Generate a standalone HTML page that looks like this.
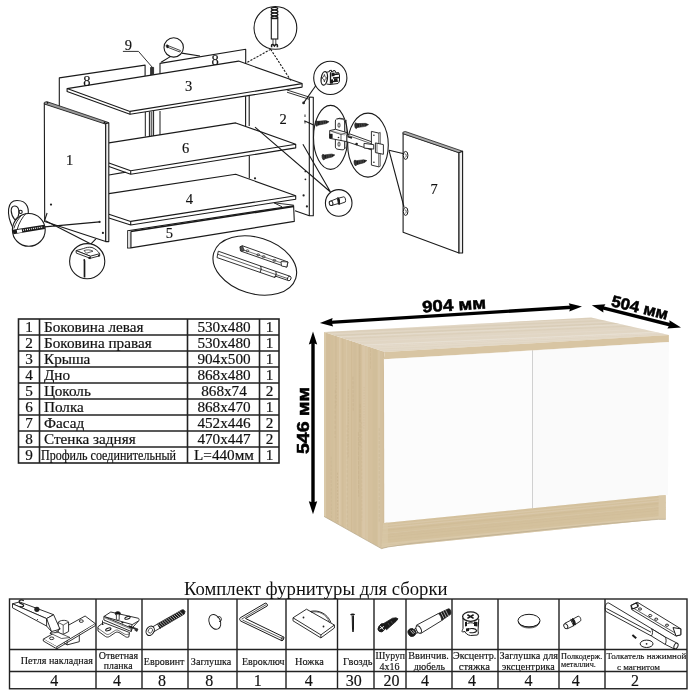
<!DOCTYPE html>
<html><head><meta charset="utf-8"><style>
html,body{margin:0;padding:0;background:#fff;width:700px;height:700px;overflow:hidden}
svg{display:block;will-change:transform}
</style></head><body>
<svg width="700" height="700" viewBox="0 0 700 700">
<rect width="700" height="700" fill="#fff"/>
<g id="drawing" fill="none" stroke="#1a1a1a" stroke-width="1.1" stroke-linejoin="round">
<!-- back panel 8 left -->
<path d="M59.3,106.4 V77.9 L145.1,65.1 V76"/>
<!-- back panel 8 right -->
<path d="M160,74 V63.4 L245.7,49.3 V63.6"/>
<!-- profile 9 -->
<rect x="150.6" y="67.4" width="3" height="8" fill="#333" stroke-width="0.8"/>
<path d="M122.9,51.4 H138.5 L152.4,67.4" stroke-width="0.9"/>
<!-- posts under top -->
<path d="M145.3,112 V136.5 M149.4,111.5 V136.5 M153.6,111 V136.5 M160,111 V136.5" stroke-width="1"/>
<rect x="150.6" y="111.5" width="1.8" height="25" fill="#666" stroke="none"/>
<!-- right back post -->
<path d="M245.6,95.5 V126.4 M249.2,95 V126 M249.3,155.7 V178.6"/>
<!-- side panel 2 -->
<path d="M287,90 L309.3,97.1 M287,92.2 L309.3,99.3" stroke-width="0.9"/>
<path d="M309.3,97.1 V215.7 L295,210.7 M309.3,97.1 L313.3,97.3 V215.7 H309.3" fill="#fff"/>
<!-- top panel 3 -->
<path d="M67.1,88.6 L238.6,61.1 L302.1,83.6 V87.1 L130,114.3 L67.1,91.4 Z" fill="#fff"/>
<path d="M67.1,88.6 L130,111.4 L302.1,83.6 M130,111.4 V114.3"/>
<!-- shelf 6 -->
<path d="M108.9,142.9 L235.7,122.9 L295.7,144.3 V147.9 L130.7,174.3 L108.9,166.4 V162.9 Z" fill="#fff" stroke="none"/>
<path d="M108.9,142.9 L235.7,122.9 L295.7,144.3 V147.9 L130.7,174.3 L108.9,166.4 M108.9,162.9 L130.7,170.7 L295.7,144.3 M130.7,170.7 V174.3 M108.9,175 L125.7,172.1"/>
<!-- bottom 4 -->
<path d="M108.9,193.6 L235.7,174.3 L295.7,195.7 V199.3 L130.7,225 L108.9,217.9 V214.3 Z" fill="#fff" stroke="none"/>
<path d="M108.9,193.6 L235.7,174.3 L295.7,195.7 V199.3 L130.7,225 L108.9,217.9 M108.9,214.3 L130.7,221.4 L295.7,195.7 M130.7,221.4 V225"/>
<!-- plinth 5 -->
<path d="M127.6,230.7 L293.6,205.7 L294.3,221.4 L130.7,247.9 H127.6 Z" fill="#fff"/>
<path d="M130.7,231.5 L293.6,206.5 M130.7,231.5 V247.9" stroke-width="1.6"/>
<rect x="127.8" y="231" width="2.6" height="16.5" fill="#ddd" stroke="none"/>
<path d="M274,202.8 L293.8,205.2 M274,202.8 L282,206.8" stroke-width="0.9"/>
<!-- side panel 1 -->
<path d="M44.3,103.5 L105.7,123.6 V241.4 L44.7,221.4 Z" fill="#fff"/>
<path d="M44.3,102.4 L46.8,101.6 L108.8,122.6 L105.7,124.2 L44.3,104 Z" fill="#999" stroke-width="0.8"/>
<path d="M105.7,123.6 L108.8,122.8 V241.6 H105.7 Z" fill="#eee"/>
<circle cx="47.5" cy="102.8" r="0.9" fill="#111" stroke="none"/>
<circle cx="104.5" cy="122.5" r="0.9" fill="#111" stroke="none"/>
<!-- door 7 -->
<path d="M403.1,133.6 L459,152.6 V253 L403.1,232.3 Z" fill="#fff"/>
<path d="M402.9,132.2 L405.3,131.5 L462.6,151.2 L459,152.8 L402.9,133.7 Z" fill="#aaa" stroke-width="0.8"/>
<path d="M459,152.8 L462.6,151.2 V253 H459 Z" fill="#eee"/>
</g>
<g font-family="Liberation Serif" font-size="14.5" fill="#111" stroke="#111" stroke-width="0.15" text-anchor="middle">
<text x="69.5" y="165">1</text>
<text x="283" y="124">2</text>
<text x="188.6" y="90.5">3</text>
<text x="189.3" y="204">4</text>
<text x="169.3" y="237.5">5</text>
<text x="185.7" y="152.5">6</text>
<text x="434" y="193.5">7</text>
<text x="86.8" y="85.5">8</text>
<text x="215" y="65">8</text>
<text x="128.4" y="50">9</text>
</g>
<g id="mags" fill="none" stroke="#1a1a1a" stroke-width="1.1">
<!-- A: nail magnifier -->
<circle cx="173.7" cy="47.4" r="9.7" fill="#fff"/>
<path d="M168,45.6 L180.5,50.6 L179.8,52 L167.5,47.2 Z" fill="#fff" stroke-width="0.8"/>
<ellipse cx="167.3" cy="46.3" rx="1" ry="1.6" transform="rotate(-20 167.3 46.3)" fill="#111" stroke-width="0.6"/>
<path d="M170.3,56.6 L161.1,62.3 M181.7,53.1 L200,56"/>
<!-- B: dowel magnifier -->
<circle cx="275.4" cy="27.9" r="21.4" fill="#fff"/>
<path d="M270.7,49.3 L245,63.6 M270.7,49.3 L291.4,81.4" stroke-dasharray="2.2,1.3"/>
<rect x="271.3" y="18.3" width="6.5" height="20.7" fill="#fff" stroke-width="1.1"/>
<path d="M271.3,18.3 H277.8" stroke-width="1.8"/>
<ellipse cx="274.5" cy="8.6" rx="3.2" ry="1.3" fill="#fff" stroke-width="1.3"/>
<ellipse cx="274.5" cy="11.6" rx="3.4" ry="1.4" fill="#fff" stroke-width="1.3"/>
<ellipse cx="274.5" cy="14.6" rx="3.4" ry="1.4" fill="#fff" stroke-width="1.3"/>
<ellipse cx="274.5" cy="17.3" rx="3.3" ry="1.1" fill="#fff" stroke-width="1.3"/>
<path d="M273,39 V44.7 M275.8,39 V44.7" stroke-width="0.8"/>
<path d="M271.6,47.2 V45.3 C271.6,44.3 273,44.3 273.6,45 L274.4,46 L275.2,45 C275.8,44.3 277.4,44.3 277.4,45.3 V47.2" fill="#fff" stroke-width="1.5"/>
<!-- C: cam magnifier -->
<circle cx="330.3" cy="77.9" r="16.6" fill="#fff"/>
<path d="M315.7,85.7 L303.6,102.9"/>
<path d="M326,72.5 L329.5,71.5 V70.5 L331.5,70.3 V72 L333,71.6 V70.8 L335,70.6 L336,73 L338.5,72.5 L339.5,74.5 V81.5 L338,83.5 L330,84.5 L326.5,84" fill="#fff" stroke-width="1"/>
<path d="M330.5,72.3 V83.8 M333.5,74.5 L339,74 M333,78 L339,77.5 M333,81.5 L338.5,81.2" stroke-width="1.3"/>
<path d="M331.5,73 L334.5,72.5 V76 L331.5,76.5 Z M334,78.5 L337.5,78.3 V81 L334,81.3 Z M331,79.5 L333,79.3 V83.5 L331,83.7 Z" fill="#1a1a1a" stroke="none"/>
<ellipse cx="324.3" cy="78.4" rx="3.1" ry="6.8" transform="rotate(8 324.3 78.4)" fill="#fff" stroke-width="1.3"/>
<path d="M322,78 C323,77.6 324,76.5 324.4,74.5 C324.8,76.5 325.5,77.6 326.6,78 C325.5,78.5 324.8,79.5 324.4,81.8 C324,79.5 323,78.5 322,78 Z" fill="#fff" stroke-width="0.8"/>
<!-- D: hinge ellipse 1 -->
<ellipse cx="330.6" cy="137.4" rx="17.1" ry="32" fill="#fff"/>
<path d="M304.3,120.7 L313.6,125"/>
<polygon points="318.06,125.22 326.33,123.59 329.10,121.70 325.93,120.62 317.52,121.26" fill="#1a1a1a" stroke="#1a1a1a" stroke-width="0.5"/><ellipse cx="316.60" cy="123.40" rx="1.3" ry="2.9" transform="rotate(-7.7 316.60 123.40)" fill="#333" stroke="#1a1a1a" stroke-width="0.6"/><path d="M320.01,124.55 L320.37,121.27" stroke="#888" stroke-width="0.4"/><path d="M321.72,124.32 L322.08,121.04" stroke="#888" stroke-width="0.4"/><path d="M323.42,124.09 L323.79,120.81" stroke="#888" stroke-width="0.4"/><path d="M325.13,123.85 L325.49,120.58" stroke="#888" stroke-width="0.4"/>
<polygon points="324.95,158.84 332.24,156.94 334.90,154.90 331.67,153.99 324.20,154.91" fill="#1a1a1a" stroke="#1a1a1a" stroke-width="0.5"/><ellipse cx="323.40" cy="157.10" rx="1.3" ry="2.9" transform="rotate(-10.8 323.40 157.10)" fill="#333" stroke="#1a1a1a" stroke-width="0.6"/><path d="M326.69,158.10 L326.87,154.81" stroke="#888" stroke-width="0.4"/><path d="M328.20,157.81 L328.39,154.52" stroke="#888" stroke-width="0.4"/><path d="M329.72,157.52 L329.90,154.23" stroke="#888" stroke-width="0.4"/><path d="M331.23,157.23 L331.42,153.94" stroke="#888" stroke-width="0.4"/>
<path d="M335.4,121 C335.4,119 337,118.6 339,118.6 L342.5,119.2 C344,119.5 344.6,120.5 344.6,122 V148 C344.6,149.5 343.5,150 342,149.8 L338,149.3 C336.5,149 335.4,148.5 335.4,147 Z" fill="#fff" stroke-width="0.9"/>
<path d="M337.2,119.2 L339.5,118.2 L344,118.8 M344.6,121 L346.2,120 V147.5 L344.6,148.5" fill="none" stroke-width="0.7"/>
<ellipse cx="339" cy="125.2" rx="1" ry="2.3" fill="none" stroke-width="0.8"/>
<ellipse cx="339" cy="144.2" rx="1" ry="2.3" fill="none" stroke-width="0.8"/>
<path d="M329.7,130.6 L335.5,129.3 L347,132.6 V141.7 L329.7,138.3 Z" fill="#fff" stroke-width="0.9"/>
<path d="M329.7,130.6 L341,134.5 L347,132.6 M341,134.5 V141" fill="none" stroke-width="0.7"/>
<path d="M331.5,131.5 L345,135.2 M332.5,130.8 L346,134.6" fill="none" stroke="#666" stroke-width="0.4"/>
<rect x="329.3" y="133.8" width="3.3" height="4.6" fill="#1a1a1a" stroke="none"/>
<circle cx="338.5" cy="137.5" r="0.8" fill="#222" stroke="none"/>
<!-- E: hinge ellipse 2 -->
<ellipse cx="368" cy="145.1" rx="20.3" ry="32" fill="#fff"/>
<polygon points="357.37,127.59 365.74,126.36 368.60,124.60 365.48,123.37 357.02,123.60" fill="#1a1a1a" stroke="#1a1a1a" stroke-width="0.5"/><ellipse cx="356.00" cy="125.70" rx="1.3" ry="2.9" transform="rotate(-5.0 356.00 125.70)" fill="#333" stroke="#1a1a1a" stroke-width="0.6"/><path d="M359.36,127.01 L359.88,123.76" stroke="#888" stroke-width="0.4"/><path d="M361.08,126.86 L361.60,123.61" stroke="#888" stroke-width="0.4"/><path d="M362.80,126.71 L363.32,123.45" stroke="#888" stroke-width="0.4"/><path d="M364.53,126.56 L365.04,123.30" stroke="#888" stroke-width="0.4"/>
<polygon points="356.97,164.63 364.25,162.66 366.90,160.60 363.66,159.72 356.18,160.70" fill="#1a1a1a" stroke="#1a1a1a" stroke-width="0.5"/><ellipse cx="355.40" cy="162.90" rx="1.3" ry="2.9" transform="rotate(-11.3 355.40 162.90)" fill="#333" stroke="#1a1a1a" stroke-width="0.6"/><path d="M358.70,163.87 L358.86,160.58" stroke="#888" stroke-width="0.4"/><path d="M360.22,163.57 L360.37,160.27" stroke="#888" stroke-width="0.4"/><path d="M361.73,163.27 L361.89,159.97" stroke="#888" stroke-width="0.4"/><path d="M363.25,162.96 L363.40,159.67" stroke="#888" stroke-width="0.4"/>
<path d="M346.9,135 L350,134 L373.7,142.5 V149.7 L371.4,149.9 L346.9,141.7 Z" fill="#fff" stroke-width="0.9"/>
<path d="M346.9,135 L371,143.6 L373.7,142.5 M371,143.6 V149.9" fill="none" stroke-width="0.7"/>
<path d="M347.5,136.5 L352,138" stroke-width="1.4"/>
<circle cx="356.6" cy="144" r="1.3" fill="#1a1a1a" stroke="none"/>
<path d="M371.4,131.4 L378.9,133.1 V166.9 L371.4,165.1 Z" fill="#fff" stroke-width="0.9"/>
<path d="M378.9,133.1 L380.2,132.4 V166.3 L378.9,166.9" fill="#ddd" stroke-width="0.7"/>
<circle cx="373.9" cy="135.2" r="0.8" fill="#222" stroke="none"/>
<circle cx="373.9" cy="162.3" r="0.8" fill="#222" stroke="none"/>
<path d="M364,143.4 L373.7,144.6 V149.1 L364,148 Z" fill="#fff" stroke-width="0.9"/>
<path d="M375.4,142.9 L383.4,144.6 V154.3 L375.4,152.6 Z" fill="#fff" stroke-width="0.9"/>
<path d="M377,143.3 V153" stroke-width="0.6"/>
<path d="M389,150.3 L403.9,153.7 M389,150.3 L404,207"/>
<!-- door holes -->
<ellipse cx="405.6" cy="155.4" rx="2.3" ry="4" fill="#fff" stroke-width="1"/>
<path d="M404.8,154 C406.5,153.5 406.8,156.5 405.2,157.5" fill="none" stroke-width="0.7"/>
<ellipse cx="405.6" cy="211.4" rx="2.3" ry="4" fill="#fff" stroke-width="1"/>
<path d="M404.8,210 C406.5,209.5 406.8,212.5 405.2,213.5" fill="none" stroke-width="0.7"/>
<!-- H: pin circle -->
<path d="M255,127.1 L330.5,192 M302.9,144.3 L330.5,192"/>
<circle cx="338.7" cy="202.9" r="13.3" fill="#fff"/>
<path d="M330.9,201 L337.3,198.4 L338.4,203.5 L331.4,205.5 Z" fill="#fff" stroke-width="0.9"/>
<path d="M338.6,198.1 L343.9,196.8 C345.4,196.8 346,200.8 345.3,202 L339.4,204.1 Z" fill="#fff" stroke-width="0.9"/>
<ellipse cx="331.1" cy="203.3" rx="1.8" ry="2.3" transform="rotate(-15 331.1 203.3)" fill="#fff" stroke-width="1"/>
<path d="M337.4,197.9 C339,198 339.7,202.5 338.6,204.7" stroke-width="1.9"/>
<!-- side panel 2 holes -->
<circle cx="303.6" cy="102.9" r="1.4" fill="#222" stroke="none"/>
<path d="M305,114.5 V117 M305,121 V123.5" stroke-width="0.9"/>
<circle cx="305.4" cy="171.4" r="0.9" fill="#222" stroke="none"/>
<circle cx="305.4" cy="179.3" r="0.9" fill="#222" stroke="none"/>
<circle cx="303.6" cy="195.4" r="1.1" fill="#222" stroke="none"/>
<circle cx="306.9" cy="206.4" r="1.1" fill="#222" stroke="none"/>
<circle cx="255" cy="178.3" r="1.1" fill="#222" stroke="none"/>
<!-- I: confirmat magnifier + loop -->
<path d="M12.9,227.7 C6,214 7,200.5 17,200.5 C28,200.5 30,210 27,218 C24,224 16,227 12.9,227.7 Z" fill="#fff"/>
<path d="M15,220 C10,214 10,206 14.5,206 C19,206 20,212 18,217 Z"/>
<circle cx="20.6" cy="211.9" r="1.6"/>
<circle cx="28.8" cy="229.9" r="16.4" fill="#fff"/>
<path d="M13,232 L44.6,226.9" stroke-width="4.5"/>
<path d="M23,230.2 L43,227" stroke="#fff" stroke-width="1.2" stroke-dasharray="1,1"/>
<path d="M17,231.5 L22,230.7" stroke="#fff" stroke-width="3"/>
<path d="M26.1,213.4 C22.5,217 18.8,223 17.2,229.5 M21.6,215.1 C18.5,218.5 15.3,223.5 13.8,228.5" stroke-width="0.9"/>
<path d="M44.3,221.4 L47.1,213 M44.6,226.9 L99.6,221.9 M45.4,220.7 L91.4,244.3 M95.9,238.9 L90.5,244.3"/>
<circle cx="51" cy="204.6" r="1.1" fill="#222" stroke="none"/>
<circle cx="99.6" cy="221.9" r="1.1" fill="#222" stroke="none"/>
<circle cx="102.9" cy="232.9" r="1.1" fill="#222" stroke="none"/>
<!-- J: leg magnifier -->
<circle cx="87.2" cy="261.2" r="17.6" fill="#fff"/>
<path d="M76,250.6 L83.4,248.6 C86,247.5 89,246.8 92,247.5 C95,248.5 98,251 99.7,253.7 L90.3,256.2 Z" fill="#fff" stroke-width="0.9"/>
<path d="M76,250.6 L76.3,253.1 L90.3,258.3 L90.3,256.2 Z" fill="#fff" stroke-width="0.9"/>
<path d="M90.3,258.3 L99.7,255.8 V253.7" fill="none" stroke-width="0.9"/>
<path d="M84,250.6 C87,249.5 90,249.5 93,251.2 L86.5,253.2 Z" fill="#fff" stroke-width="0.7"/>
<path d="M88.5,257.6 L90.5,258.4 M98,255.6 L99.7,255.6" stroke-width="1.8"/>
<path d="M84.1,259.3 L84.5,261 V277.6" stroke-width="1.7"/>
<!-- K: drawer pusher ellipse -->
<ellipse cx="254.8" cy="265.5" rx="42.9" ry="28.1" transform="rotate(17.4 254.8 265.5)" fill="#fff"/>
<path d="M218.3,251.2 L260.5,266 L275.6,271.3 L289.8,276.2 L288.5,280.6 L275,276 L274.8,277.5 L259.8,272.3 L217,257.6 Z" fill="#fff" stroke-width="0.9"/>
<path d="M217.6,254.2 L260,269 L274.8,274.2 L289,279" stroke-width="0.7"/>
<path d="M260.5,266 C261.5,268 261.3,271 259.8,272.3 M275.6,271.3 C276.5,273 276.3,276 274.8,277.5" stroke-width="1"/>
<ellipse cx="289.3" cy="278.4" rx="1.7" ry="2.3" transform="rotate(20 289.3 278.4)" fill="#fff" stroke-width="0.9"/>
<path d="M240,246.8 L242.5,245.8 L288,262 L286.8,267.2 L240.5,251 Z" fill="#fff" stroke-width="0.9"/>
<path d="M240.8,249 L287.5,265" stroke-width="0.6"/>
<path d="M240,246.8 L242.5,245.8 L244.3,250.5 L241.5,251.2 Z" fill="#555" stroke-width="0.6"/>
<path d="M281,261.5 L287.8,262 L286.8,267 L281.5,266 Z" fill="#fff" stroke-width="0.8"/>
<ellipse cx="247.4" cy="250.8" rx="1.4" ry="1" stroke-width="0.7"/>
<ellipse cx="258.2" cy="254.8" rx="1.4" ry="1" stroke-width="0.7"/>
<ellipse cx="263.6" cy="256.6" rx="1.4" ry="1" stroke-width="0.7"/>
<ellipse cx="274.4" cy="260.4" rx="1.4" ry="1" stroke-width="0.7"/>
</g>
<g id="icons" fill="#fff" stroke="#1a1a1a" stroke-width="0.9" stroke-linejoin="round">
<!-- 1 hinge -->
<path d="M64,632 L79.3,631 V641.7 L67.1,644.9 L64,643 Z" fill="#fff"/>
<path d="M67.1,636 V644.9" fill="none"/>
<path d="M43.3,639.1 L85.1,616 L95.4,623.7 L56.8,646.8 Z"/>
<path d="M43.3,639.1 V641 L56.8,648.8 V646.8 M56.8,648.8 L95.4,625.6 V623.7"/>
<path d="M58.3,632.5 L58.1,622.4 C60,620 66,619.5 68.6,622 V631.5 L63,634.5 Z"/>
<path d="M58.1,622.4 L63.2,625 L68.6,622 M63.2,625 V634" fill="none" stroke-width="0.7"/>
<path d="M50,633 L58.3,632.5 L70,637.5 L61.5,638.5 Z" fill="#fff" stroke-width="0.7"/>
<path d="M12.5,603.8 L19.6,601.9 L53.6,614.7 L46.6,618.6 Z"/>
<path d="M12.5,603.8 L46.6,618.6 V626 L12.5,607.8 Z"/>
<path d="M46.6,618.6 L53.6,614.7 L60,629.2 L51.5,631.6 Z"/>
<path d="M46.6,626 L51.5,631.6 L50,634" fill="none"/>
<circle cx="46.8" cy="620" r="0.8" fill="#222" stroke="none"/>
<circle cx="59.5" cy="628.5" r="0.8" fill="#222" stroke="none"/>
<ellipse cx="51.7" cy="638.3" rx="2.2" ry="1.3" fill="none"/>
<ellipse cx="81.3" cy="621.1" rx="2" ry="1.3" fill="none"/>
<circle cx="36.9" cy="609.3" r="2.6" fill="#222" stroke="none"/>
<circle cx="37.5" cy="619.5" r="0.6" fill="#222" stroke="none"/>
<path d="M23.8,600.6 C21,599 18.5,600.4 19.3,602.3 C20,604.3 23.5,603.7 23.6,605.6 C23.7,607 21,607.2 19.6,606.2" fill="none" stroke-width="1.3"/>
<!-- 2 mounting plate -->
<path d="M97.9,626.8 L103.5,622.5 L129.5,632.5 L128.8,637 C127,637.6 125.5,637 124.5,636 L119,632.5 C117.5,631.8 116,632 115,632.8 L109.5,636.5 C108.2,637.3 106.5,637.2 105.5,636.5 L98,631 Z"/>
<path d="M98,628.2 L106,634 C107,634.6 108.5,634.6 109.5,634 L115,630.5 C116,629.8 117.5,629.8 118.5,630.5 L124.5,634 C125.5,634.6 127,634.8 129.5,633.8" fill="none" stroke-width="0.6"/>
<path d="M103.9,616.5 L110.8,612 L138.5,618.3 C139.3,619 139.3,620.3 138.5,621 L132.2,624.6 Z"/>
<path d="M103.9,616.5 V620 L131.2,631.5 V628 Z"/>
<path d="M131.2,628 L132.2,624.6 M131.2,631.5 L132.5,627.6 L138.5,621" fill="none"/>
<path d="M104.5,617.8 L131,629.2" fill="none" stroke-width="0.5"/>
<path d="M102.5,620.5 V625 L104,623.5" fill="none" stroke-width="0.9"/>
<ellipse cx="117.8" cy="613.5" rx="2.6" ry="1.8" fill="#111"/>
<path d="M116.4,614.5 V619.5 C116.4,620.3 119.2,620.3 119.2,619.5 V614.5" fill="#fff" stroke-width="0.8"/>
<ellipse cx="127.5" cy="617.8" rx="2.8" ry="1.2" transform="rotate(-20 127.5 617.8)" fill="none" stroke-width="1"/>
<ellipse cx="108.3" cy="629.4" rx="2.8" ry="1.2" transform="rotate(-20 108.3 629.4)" fill="none" stroke-width="1"/>
<ellipse cx="122.5" cy="622.6" rx="1.2" ry="0.8" fill="#111" stroke="none"/>
<path d="M128.5,626 L135,628.5" fill="none" stroke-width="1.6"/>
<path d="M135,628 L138,629 L137,631.5 L134.5,630" fill="#333" stroke-width="0.6"/>
<!-- 3 eurovint -->
<path d="M159.98,628.39 L184.27,614.08 L185.05,611.43 L183.46,609.69 L181.87,609.93 L157.38,623.89 Z" fill="#1a1a1a" stroke-width="0.8"/>
<path d="M161.58,627.35 L157.86,623.72 M163.54,626.21 L159.82,622.59 M165.50,625.08 L161.78,621.45 M167.46,623.94 L163.74,620.32 M169.42,622.80 L165.70,619.18 M171.38,621.67 L167.66,618.04 M173.34,620.53 L169.62,616.91 M175.30,619.40 L171.58,615.77 M177.26,618.26 L173.54,614.64 M179.22,617.12 L175.50,613.50 M181.18,615.99 L177.46,612.36 M183.14,614.85 L179.42,611.23 " fill="none" stroke="#fff" stroke-width="0.65"/>
<path d="M153.57,631.88 L159.88,628.21 L157.48,624.06 L151.16,627.72 Z" fill="#fff" stroke-width="0.9"/>
<ellipse cx="150.2" cy="630.8" rx="3.8" ry="4.9" transform="rotate(32 150.2 630.8)" fill="#fff" stroke-width="1.1"/>
<ellipse cx="150.4" cy="630.6" rx="2" ry="2.6" transform="rotate(32 150.4 630.6)" fill="none" stroke-width="0.7"/>
<!-- 4 zaglushka -->
<ellipse cx="214.8" cy="621.9" rx="5.6" ry="7.7" transform="rotate(-25 214.8 621.9)"/>
<path d="M217.5,617.5 L219.5,616.5 C221.5,617 222,620 220.5,621.3 L219,621.5" fill="none"/>
<!-- 5 allen key -->
<path d="M240.2,617.8 L265.2,603.2 C266.5,602.6 268,604.8 267.2,606 L245.5,618.5 L282.5,636.4 C284,637.3 283.5,640.5 282,640.8 L241,621.2 C239.5,620.5 239.3,618.5 240.2,617.8 Z" stroke-width="1"/>
<path d="M241.5,619.2 L266.2,604.6 M242.5,620 L282.8,638.8" fill="none" stroke-width="0.7"/>
<ellipse cx="282.6" cy="638.6" rx="1.1" ry="2.2" transform="rotate(25 282.6 638.6)" fill="none" stroke-width="0.7"/>
<!-- 6 nozhka -->
<path d="M293,617.8 L306.5,609.2 L334.4,625 L320.9,634.9 Z"/>
<path d="M293,617.8 V620.8 L320.9,637.9 V634.9 M320.9,637.9 L334.4,628 V625" fill="none"/>
<path d="M310,611.5 C318,609.5 327,613 331,622.5" fill="none"/>
<path d="M311,612.3 C318.5,610.5 326.5,614 329.6,622.8" fill="none" stroke-width="0.6"/>
<circle cx="303.5" cy="617.5" r="0.9" fill="#222" stroke="none"/>
<circle cx="323.5" cy="626.5" r="0.9" fill="#222" stroke="none"/>
<!-- 7 gvozd -->
<path d="M352.2,615.5 L352.5,629 L353,632 L353.5,629 L353.5,615.5" fill="#555" stroke-width="1"/>
<path d="M350.6,615 C351.5,614 354,614 354.5,615" fill="none" stroke-width="1.5"/>
<!-- 8 shurup -->
<path d="M382.5,624.2 L392.5,618.2 L396,617.8 L398,618.8 L396.2,621.2 L386.5,629.8 Z" fill="#1a1a1a" stroke-width="0.8"/>
<path d="M388,623 L389.5,625.5 M391,621 L392.5,623.5" fill="none" stroke="#666" stroke-width="0.6"/>
<ellipse cx="381.8" cy="627.8" rx="3.3" ry="4.4" transform="rotate(35 381.8 627.8)" fill="#1a1a1a" stroke-width="0.8"/>
<path d="M380,625.8 L383.6,629.8 M384,626.4 L379.6,629.2" fill="none" stroke="#fff" stroke-width="0.9"/>
<!-- 9 dowel -->
<path d="M438.2,613.6 L448.5,608.8 C450.5,608.5 451.5,612.5 450.6,614.3 L442,620.3 Z" fill="#1a1a1a" stroke-width="0.8"/>
<path d="M441,612.5 L444,618.5 M443.3,611.3 L446.3,617.3 M445.6,610.2 L448.6,616.2" fill="none" stroke="#fff" stroke-width="0.6"/>
<path d="M416.3,625.3 L438.2,613.6 C440.5,614.5 441.5,618 441.8,620.5 L420.7,633.5 Z" fill="#fff" stroke-width="0.9"/>
<path d="M414.5,629 L417.5,627.5 L419.5,632 L416.3,633.3 Z" fill="#fff" stroke-width="0.9"/>
<ellipse cx="418.7" cy="629.5" rx="2.3" ry="4" transform="rotate(-25 418.7 629.5)" fill="#fff" stroke-width="0.9"/>
<ellipse cx="411.8" cy="632.5" rx="3.7" ry="4" transform="rotate(-25 411.8 632.5)" fill="#1a1a1a" stroke-width="0.8"/>
<path d="M410.5,630.5 L413.5,634 M412.5,630 C413.5,631 414.2,632 414.5,633" fill="none" stroke="#fff" stroke-width="0.7"/>
<!-- 10 ekscentrik -->
<path d="M463,618 V628.5 C462.5,630 461.5,631.5 462.5,632 L465,631.5 C465.5,633.5 467.5,635 470.5,635.5 L477.5,635 C478.5,634 478.5,632 478,631 L478.8,619" fill="#fff" stroke-width="1"/>
<path d="M465,622 L467,621.5 V626 L465,626.5 Z M474,621.5 L477.5,622 V626.5 L474,626 Z M466,628.5 L469,628 V631 L466,631.5 Z" fill="#1a1a1a" stroke="none"/>
<path d="M469,629 C471,628 476,628.5 476.5,630.5 C477,632.5 472,633 469.5,632.5" fill="none" stroke-width="1.1"/>
<path d="M467.5,623.5 C469,622.5 472.5,622.5 474,623.5" fill="none" stroke-width="1"/>
<ellipse cx="470.6" cy="616.6" rx="8" ry="4.7" stroke-width="1.3"/>
<path d="M467.4,614.8 L473.6,618.4 M473.6,614.8 L467.4,618.4" fill="none" stroke-width="1.6"/>
<!-- 11 cap -->
<ellipse cx="529" cy="620.6" rx="11" ry="6.3" stroke-width="1"/>
<path d="M518.4,621.8 C519.5,625.5 524,627.2 529,627.2 C534.5,627.2 538.7,625.5 539.7,621.5" fill="none" stroke-width="0.8"/>
<path d="M518.6,622.8 C520,626.5 524.5,628 529,628 C534,628 538.2,626.5 539.5,622.5" fill="none" stroke-width="0.6"/>
<!-- 12 shelf pin -->
<path d="M565,623.2 L570.8,620.3 L573.8,625.7 L567.3,628.8 Z" stroke-width="0.9"/>
<ellipse cx="565.8" cy="626.2" rx="1.8" ry="2.6" transform="rotate(-30 565.8 626.2)" stroke-width="0.9"/>
<path d="M572.5,619.3 L578,616.3 C580,615.8 581.5,619.5 580.5,621 L575.3,624.5 Z" stroke-width="0.9"/>
<path d="M570.5,619.5 C572.8,619.5 574.3,623.5 573.5,626 M572,618.8 C574,619 575.5,622.5 575,625" fill="none" stroke-width="1.5"/>
<!-- 13 pusher -->
<path d="M605.8,604.8 C606,603.5 607.5,602.8 608.8,603 L651.4,628.6 L665.2,637 L677.2,643.2 L674,648.8 L665.2,644.4 L651.4,636 L605.8,611.4 C605,609 605,606.5 605.8,604.8 Z" stroke-width="0.9"/>
<path d="M606.5,608.5 L651,632.2 M651.4,628.6 C653,630.5 652.8,634.5 651.4,636 M665.2,637 C666.5,639 666.3,642.5 665.2,644.4" fill="none" stroke-width="0.9"/>
<path d="M651.4,628.6 L665.2,637" fill="none" stroke-width="0.6"/>
<ellipse cx="676" cy="646" rx="1.9" ry="3" transform="rotate(25 676 646)" stroke-width="0.9"/>
<path d="M631,605.4 L637.6,602.4 L680.8,628.8 V634.8 L676,636 L631.6,609.5 Z" stroke-width="0.9"/>
<path d="M631.5,607 L676,633.5 M637.6,602.4 L638.5,606 L632,608" fill="none" stroke-width="0.7"/>
<path d="M631,605.4 L636.5,602.8 L638,606.8 L632.5,609 Z" fill="#fff" stroke-width="1.1"/>
<path d="M673,627.6 L680.8,628.8 V634.8 L676,636 Z" fill="#fff" stroke-width="1"/>
<ellipse cx="640" cy="609" rx="1.6" ry="1.1" fill="none" stroke-width="0.9"/>
<ellipse cx="650.2" cy="615.6" rx="1.6" ry="1.1" fill="none" stroke-width="0.9"/>
<ellipse cx="656.2" cy="619.2" rx="1.6" ry="1.1" fill="none" stroke-width="0.9"/>
<ellipse cx="667" cy="625.2" rx="1.6" ry="1.1" fill="none" stroke-width="0.9"/>
<path d="M632.4,635 L636.2,638.2" fill="none" stroke-width="2"/>
<ellipse cx="646.6" cy="643.8" rx="6.4" ry="3.7" stroke-width="1"/>
<circle cx="646.6" cy="643.8" r="0.9" fill="#222" stroke="none"/>
</g>

<g stroke="#222" stroke-width="1.6" fill="none">
<rect x="18.5" y="319" width="260.5" height="144"/>
<line x1="18.5" y1="335" x2="279" y2="335"/>
<line x1="18.5" y1="351" x2="279" y2="351"/>
<line x1="18.5" y1="367" x2="279" y2="367"/>
<line x1="18.5" y1="383" x2="279" y2="383"/>
<line x1="18.5" y1="399" x2="279" y2="399"/>
<line x1="18.5" y1="415" x2="279" y2="415"/>
<line x1="18.5" y1="431" x2="279" y2="431"/>
<line x1="18.5" y1="447" x2="279" y2="447"/>
<line x1="39.5" y1="319" x2="39.5" y2="463"/>
<line x1="187.5" y1="319" x2="187.5" y2="463"/>
<line x1="259.5" y1="319" x2="259.5" y2="463"/>
</g>
<g font-family="Liberation Serif" font-size="15.2" fill="#111" stroke="#111" stroke-width="0.2">
<text x="29" y="331.5" text-anchor="middle">1</text>
<text x="44" y="331.5">Боковина левая</text>
<text x="224" y="331.5" text-anchor="middle">530x480</text>
<text x="269.5" y="331.5" text-anchor="middle">1</text>
<text x="29" y="347.5" text-anchor="middle">2</text>
<text x="44" y="347.5">Боковина правая</text>
<text x="224" y="347.5" text-anchor="middle">530x480</text>
<text x="269.5" y="347.5" text-anchor="middle">1</text>
<text x="29" y="363.5" text-anchor="middle">3</text>
<text x="44" y="363.5">Крыша</text>
<text x="224" y="363.5" text-anchor="middle">904x500</text>
<text x="269.5" y="363.5" text-anchor="middle">1</text>
<text x="29" y="379.5" text-anchor="middle">4</text>
<text x="44" y="379.5">Дно</text>
<text x="224" y="379.5" text-anchor="middle">868x480</text>
<text x="269.5" y="379.5" text-anchor="middle">1</text>
<text x="29" y="395.5" text-anchor="middle">5</text>
<text x="44" y="395.5">Цоколь</text>
<text x="224" y="395.5" text-anchor="middle">868x74</text>
<text x="269.5" y="395.5" text-anchor="middle">2</text>
<text x="29" y="411.5" text-anchor="middle">6</text>
<text x="44" y="411.5">Полка</text>
<text x="224" y="411.5" text-anchor="middle">868x470</text>
<text x="269.5" y="411.5" text-anchor="middle">1</text>
<text x="29" y="427.5" text-anchor="middle">7</text>
<text x="44" y="427.5">Фасад</text>
<text x="224" y="427.5" text-anchor="middle">452x446</text>
<text x="269.5" y="427.5" text-anchor="middle">2</text>
<text x="29" y="443.5" text-anchor="middle">8</text>
<text x="44" y="443.5">Стенка задняя</text>
<text x="224" y="443.5" text-anchor="middle">470x447</text>
<text x="269.5" y="443.5" text-anchor="middle">2</text>
<text x="29" y="459.5" text-anchor="middle">9</text>
<text x="41" y="459.5" textLength="135" lengthAdjust="spacingAndGlyphs" font-size="14">Профиль соединительный</text>
<text x="224" y="459.5" text-anchor="middle">L=440мм</text>
<text x="269.5" y="459.5" text-anchor="middle">1</text>
</g>
<defs>
<clipPath id="cside"><polygon points="324,332 384.9,352.1 383.7,359.3 387.9,547 381.4,548.6 324,516.4"/></clipPath>
<clipPath id="ctop"><polygon points="324,332 591,317.5 668.9,335.1 384.9,352.1"/></clipPath>
<clipPath id="cfront"><polygon points="384.9,352.1 668.9,335.1 668.9,342 383.7,359.3"/></clipPath>
<clipPath id="cplinth"><polygon points="384.3,523 658.6,495.7 665.7,495.2 665.7,519.3 658.6,519.3 387.9,547 381.4,548.6 383,523"/></clipPath>
</defs>
<g clip-path="url(#cside)">
<rect x="320" y="325" width="70" height="230" fill="#d5c19e"/>
<rect x="324.0" y="325" width="2.2" height="230" fill="#e2d5bd" opacity="0.39"/>
<rect x="326.3" y="325" width="4.2" height="230" fill="#cdb994" opacity="0.38"/>
<rect x="330.7" y="325" width="2.9" height="230" fill="#cdb994" opacity="0.28"/>
<rect x="334.9" y="325" width="1.8" height="230" fill="#c9b48e" opacity="0.40"/>
<rect x="339.2" y="325" width="1.3" height="230" fill="#e2d5bd" opacity="0.47"/>
<rect x="342.3" y="325" width="1.1" height="230" fill="#c9b48e" opacity="0.39"/>
<rect x="346.3" y="325" width="1.0" height="230" fill="#e2d5bd" opacity="0.35"/>
<rect x="347.7" y="325" width="1.3" height="230" fill="#d3c09d" opacity="0.45"/>
<rect x="351.0" y="325" width="1.2" height="230" fill="#c9b48e" opacity="0.47"/>
<rect x="353.4" y="325" width="3.1" height="230" fill="#cdb994" opacity="0.45"/>
<rect x="358.3" y="325" width="2.9" height="230" fill="#c9b48e" opacity="0.40"/>
<rect x="362.2" y="325" width="3.3" height="230" fill="#dfd0b5" opacity="0.38"/>
<rect x="366.2" y="325" width="1.6" height="230" fill="#e2d5bd" opacity="0.28"/>
<rect x="368.6" y="325" width="2.9" height="230" fill="#d3c09d" opacity="0.51"/>
<rect x="372.4" y="325" width="4.9" height="230" fill="#cdb994" opacity="0.43"/>
<rect x="377.8" y="325" width="2.2" height="230" fill="#dfd0b5" opacity="0.40"/>
<rect x="382.9" y="325" width="1.1" height="230" fill="#c9b48e" opacity="0.45"/>
<rect x="386.7" y="325" width="2.1" height="230" fill="#e6dac6" opacity="0.37"/>
<path d="M370.6,340.3 L370.4,369.7" stroke="#bfa983" stroke-width="0.75" opacity="0.32" stroke-dasharray="3.2,1.0"/>
<path d="M358.4,432.2 L358.6,496.7" stroke="#bfa983" stroke-width="0.84" opacity="0.40" stroke-dasharray="3.8,1.0"/>
<path d="M360.2,404.1 L360.0,445.9" stroke="#bfa983" stroke-width="0.77" opacity="0.42" stroke-dasharray="3.8,1.2"/>
<path d="M335.3,390.2 L335.0,438.0" stroke="#bfa983" stroke-width="0.62" opacity="0.47" stroke-dasharray="3.1,2.0"/>
<path d="M364.2,387.1 L363.8,430.1" stroke="#bfa983" stroke-width="0.48" opacity="0.50" stroke-dasharray="1.0,1.7"/>
<path d="M336.2,372.3 L336.2,406.9" stroke="#bfa983" stroke-width="0.70" opacity="0.40" stroke-dasharray="1.4,1.8"/>
<path d="M379.2,428.2 L379.2,522.2" stroke="#bfa983" stroke-width="0.84" opacity="0.59" stroke-dasharray="3.0,1.3"/>
<path d="M348.3,389.1 L348.2,457.3" stroke="#bfa983" stroke-width="0.50" opacity="0.60" stroke-dasharray="2.3,0.7"/>
<path d="M359.6,345.4 L359.7,422.0" stroke="#bfa983" stroke-width="0.87" opacity="0.48" stroke-dasharray="1.2,0.8"/>
<path d="M347.1,425.2 L347.2,540.7" stroke="#bfa983" stroke-width="0.64" opacity="0.33" stroke-dasharray="2.5,2.0"/>
<path d="M352.9,376.8 L353.2,411.2" stroke="#bfa983" stroke-width="0.77" opacity="0.44" stroke-dasharray="3.1,1.3"/>
<path d="M337.5,472.8 L337.7,529.0" stroke="#bfa983" stroke-width="0.86" opacity="0.53" stroke-dasharray="1.9,1.5"/>
<path d="M331.1,456.8 L331.5,528.7" stroke="#bfa983" stroke-width="0.58" opacity="0.37" stroke-dasharray="2.6,1.3"/>
<path d="M361.6,422.0 L361.9,520.8" stroke="#bfa983" stroke-width="0.50" opacity="0.37" stroke-dasharray="2.2,1.7"/>
<rect x="378" y="350" width="6" height="200" fill="#d3c2a2" opacity="0.35"/>
</g>
<g clip-path="url(#ctop)">
<rect x="320" y="310" width="360" height="50" fill="#e1d6c4"/>
<rect x="300" y="314.0" width="400" height="0.6" fill="#e5dccd" opacity="0.48" transform="rotate(-2.5 500 335)"/>
<rect x="300" y="315.0" width="400" height="0.4" fill="#d3c4ab" opacity="0.54" transform="rotate(-2.5 500 335)"/>
<rect x="300" y="316.2" width="400" height="1.1" fill="#d3c4ab" opacity="0.52" transform="rotate(-2.5 500 335)"/>
<rect x="300" y="319.7" width="400" height="1.6" fill="#d3c4ab" opacity="0.34" transform="rotate(-2.5 500 335)"/>
<rect x="300" y="321.8" width="400" height="1.0" fill="#d3c4ab" opacity="0.40" transform="rotate(-2.5 500 335)"/>
<rect x="300" y="324.4" width="400" height="1.5" fill="#d6c9b2" opacity="0.54" transform="rotate(-2.5 500 335)"/>
<rect x="300" y="327.6" width="400" height="1.4" fill="#d6c9b2" opacity="0.72" transform="rotate(-2.5 500 335)"/>
<rect x="300" y="329.5" width="400" height="0.9" fill="#e9e1d4" opacity="0.54" transform="rotate(-2.5 500 335)"/>
<rect x="300" y="331.1" width="400" height="1.3" fill="#d3c4ab" opacity="0.34" transform="rotate(-2.5 500 335)"/>
<rect x="300" y="334.8" width="400" height="1.3" fill="#e5dccd" opacity="0.50" transform="rotate(-2.5 500 335)"/>
<rect x="300" y="338.5" width="400" height="1.3" fill="#e9e1d4" opacity="0.80" transform="rotate(-2.5 500 335)"/>
<rect x="300" y="340.1" width="400" height="1.1" fill="#e5dccd" opacity="0.70" transform="rotate(-2.5 500 335)"/>
<rect x="300" y="341.8" width="400" height="1.4" fill="#e5dccd" opacity="0.63" transform="rotate(-2.5 500 335)"/>
<rect x="300" y="344.3" width="400" height="1.1" fill="#e9e1d4" opacity="0.31" transform="rotate(-2.5 500 335)"/>
<rect x="300" y="347.4" width="400" height="1.3" fill="#d6c9b2" opacity="0.56" transform="rotate(-2.5 500 335)"/>
<rect x="300" y="351.0" width="400" height="0.9" fill="#e9e1d4" opacity="0.71" transform="rotate(-2.5 500 335)"/>
<rect x="300" y="352.7" width="400" height="0.7" fill="#d3c4ab" opacity="0.55" transform="rotate(-2.5 500 335)"/>
<rect x="300" y="355.4" width="400" height="0.8" fill="#e5dccd" opacity="0.72" transform="rotate(-2.5 500 335)"/>
</g>
<g clip-path="url(#cfront)"><rect x="380" y="330" width="300" height="32" fill="#d8c5a3"/></g>
<polygon points="383.7,359.3 668.9,342 668.9,343 383.7,360.3" fill="#cdb891" opacity="0.5"/>
<polygon points="384,359.3 532,350.6 532,508.6 384.3,523" fill="#fcfcfc"/>
<polygon points="533,350.5 668.9,342 668,495 533,508.5" fill="#fafafa"/>
<line x1="532.5" y1="350.5" x2="532.5" y2="508.5" stroke="#c4c4c4" stroke-width="0.8"/>
<g clip-path="url(#cplinth)">
<rect x="378" y="490" width="292" height="62" fill="#d4c19d"/>
<rect x="370" y="490.0" width="310" height="1.6" fill="#e2d5bf" opacity="0.40" transform="rotate(-5.6 520 520)"/>
<rect x="370" y="493.7" width="310" height="1.3" fill="#dfd1b8" opacity="0.36" transform="rotate(-5.6 520 520)"/>
<rect x="370" y="496.4" width="310" height="0.5" fill="#e2d5bf" opacity="0.43" transform="rotate(-5.6 520 520)"/>
<rect x="370" y="498.6" width="310" height="1.7" fill="#dfd1b8" opacity="0.25" transform="rotate(-5.6 520 520)"/>
<rect x="370" y="501.6" width="310" height="1.6" fill="#cfbc98" opacity="0.30" transform="rotate(-5.6 520 520)"/>
<rect x="370" y="504.6" width="310" height="1.3" fill="#cfbc98" opacity="0.46" transform="rotate(-5.6 520 520)"/>
<rect x="370" y="506.4" width="310" height="0.8" fill="#cfbc98" opacity="0.43" transform="rotate(-5.6 520 520)"/>
<rect x="370" y="508.6" width="310" height="1.3" fill="#cfbc98" opacity="0.33" transform="rotate(-5.6 520 520)"/>
<rect x="370" y="511.6" width="310" height="1.3" fill="#dfd1b8" opacity="0.41" transform="rotate(-5.6 520 520)"/>
<rect x="370" y="514.1" width="310" height="1.3" fill="#e2d5bf" opacity="0.35" transform="rotate(-5.6 520 520)"/>
<rect x="370" y="516.3" width="310" height="1.3" fill="#ccb893" opacity="0.48" transform="rotate(-5.6 520 520)"/>
<rect x="370" y="519.8" width="310" height="0.8" fill="#e2d5bf" opacity="0.24" transform="rotate(-5.6 520 520)"/>
<rect x="370" y="521.2" width="310" height="1.2" fill="#cfbc98" opacity="0.40" transform="rotate(-5.6 520 520)"/>
<rect x="370" y="523.6" width="310" height="0.8" fill="#ccb893" opacity="0.44" transform="rotate(-5.6 520 520)"/>
<rect x="370" y="526.7" width="310" height="0.7" fill="#ccb893" opacity="0.24" transform="rotate(-5.6 520 520)"/>
<rect x="370" y="529.7" width="310" height="2.0" fill="#dfd1b8" opacity="0.42" transform="rotate(-5.6 520 520)"/>
<rect x="370" y="532.1" width="310" height="1.8" fill="#dfd1b8" opacity="0.50" transform="rotate(-5.6 520 520)"/>
<rect x="370" y="536.1" width="310" height="0.7" fill="#e2d5bf" opacity="0.50" transform="rotate(-5.6 520 520)"/>
<rect x="370" y="538.0" width="310" height="1.1" fill="#ccb893" opacity="0.30" transform="rotate(-5.6 520 520)"/>
<rect x="370" y="541.0" width="310" height="0.5" fill="#e2d5bf" opacity="0.33" transform="rotate(-5.6 520 520)"/>
<rect x="370" y="541.9" width="310" height="1.0" fill="#ccb893" opacity="0.35" transform="rotate(-5.6 520 520)"/>
<rect x="370" y="543.3" width="310" height="2.0" fill="#dfd1b8" opacity="0.49" transform="rotate(-5.6 520 520)"/>
<rect x="370" y="545.9" width="310" height="0.9" fill="#cfbc98" opacity="0.47" transform="rotate(-5.6 520 520)"/>
<rect x="370" y="547.5" width="310" height="1.6" fill="#e2d5bf" opacity="0.45" transform="rotate(-5.6 520 520)"/>
<rect x="370" y="550.9" width="310" height="1.9" fill="#e2d5bf" opacity="0.24" transform="rotate(-5.6 520 520)"/>
<rect x="658.6" y="494" width="7.1" height="26" fill="#d9c8a8"/>
<rect x="381.4" y="523" width="6.5" height="26" fill="#d9c7a6" opacity="0.7"/>
</g>
<path d="M324,516.4 L381.4,548.6 L387.9,547 L410,543.6 L590,525 L658.6,519.3 H665.7" fill="none" stroke="#b9aa8e" stroke-width="0.7"/>
<line x1="330.28" y1="322.35" x2="571.62" y2="307.25" stroke="#000" stroke-width="3.4"/>
<polygon points="319.90,323.00 333.14,326.38 331.58,322.27 332.61,318.00" fill="#000"/>
<polygon points="582.00,306.60 569.29,311.60 570.32,307.33 568.76,303.22" fill="#000"/>
<line x1="601.89" y1="307.72" x2="670.91" y2="324.98" stroke="#000" stroke-width="3.4"/>
<polygon points="591.80,305.20 603.39,312.43 603.15,308.04 605.43,304.28" fill="#000"/>
<polygon points="681.00,327.50 667.37,328.42 669.65,324.66 669.41,320.27" fill="#000"/>
<line x1="313.00" y1="341.80" x2="313.00" y2="503.90" stroke="#000" stroke-width="3.4"/>
<polygon points="313.00,331.40 308.80,344.40 313.00,343.10 317.20,344.40" fill="#000"/>
<polygon points="313.00,514.30 308.80,501.30 313.00,502.60 317.20,501.30" fill="#000"/>
<text x="454" y="310.5" text-anchor="middle" font-family="Liberation Sans" font-weight="bold" font-size="16.5" textLength="64" lengthAdjust="spacingAndGlyphs" stroke="#000" stroke-width="0.55" transform="rotate(-3.6 454 304)">904 мм</text>
<text x="640" y="313" text-anchor="middle" font-family="Liberation Sans" font-weight="bold" font-size="16" textLength="58" lengthAdjust="spacingAndGlyphs" stroke="#000" stroke-width="0.55" transform="rotate(13.5 640 307)">504 мм</text>
<text x="309.3" y="420.6" text-anchor="middle" font-family="Liberation Sans" font-weight="bold" font-size="16.5" textLength="67" lengthAdjust="spacingAndGlyphs" stroke="#000" stroke-width="0.55" transform="rotate(-90 309.3 420.6)">546 мм</text>
<g stroke="#222" stroke-width="1.4" fill="none">
<rect x="9.5" y="599" width="677.5" height="89.75"/>
<line x1="9.5" y1="649.5 " x2="687" y2="649.5"/>
<line x1="9.5" y1="671.5 " x2="687" y2="671.5"/>
<line x1="96" y1="599" x2="96" y2="688.75"/>
<line x1="142" y1="599" x2="142" y2="688.75"/>
<line x1="188" y1="599" x2="188" y2="688.75"/>
<line x1="237" y1="599" x2="237" y2="688.75"/>
<line x1="286" y1="599" x2="286" y2="688.75"/>
<line x1="337.5" y1="599" x2="337.5" y2="688.75"/>
<line x1="374" y1="599" x2="374" y2="688.75"/>
<line x1="406" y1="599" x2="406" y2="688.75"/>
<line x1="452" y1="599" x2="452" y2="688.75"/>
<line x1="498" y1="599" x2="498" y2="688.75"/>
<line x1="559" y1="599" x2="559" y2="688.75"/>
<line x1="605" y1="599" x2="605" y2="688.75"/>
</g>
<g font-family="Liberation Serif" font-size="12" fill="#111" stroke="#111" stroke-width="0.15">
<text x="20.8" y="664.3" textLength="72" lengthAdjust="spacingAndGlyphs" font-size="10.5">Петля накладная</text>
<text x="54.25" y="685.5" text-anchor="middle" font-size="16">4</text>
<text x="98.7" y="658.9" textLength="39.4" lengthAdjust="spacingAndGlyphs" font-size="9.8">Ответная</text>
<text x="103.8" y="668.9" textLength="28.7" lengthAdjust="spacingAndGlyphs" font-size="9.8">планка</text>
<text x="117.1" y="685.5" text-anchor="middle" font-size="16">4</text>
<text x="143.8" y="664.5" textLength="40.7" lengthAdjust="spacingAndGlyphs" font-size="10.5">Евровинт</text>
<text x="162.1" y="685.5" text-anchor="middle" font-size="16">8</text>
<text x="190.8" y="664.5" textLength="40.5" lengthAdjust="spacingAndGlyphs" font-size="10.5">Заглушка</text>
<text x="209.3" y="685.5" text-anchor="middle" font-size="16">8</text>
<text x="242" y="664.5" textLength="42.5" lengthAdjust="spacingAndGlyphs" font-size="10.5">Евроключ</text>
<text x="257.7" y="685.5" text-anchor="middle" font-size="16">1</text>
<text x="295" y="664.5" textLength="28.8" lengthAdjust="spacingAndGlyphs" font-size="10.5">Ножка</text>
<text x="308.7" y="685.5" text-anchor="middle" font-size="16">4</text>
<text x="343" y="664.5" textLength="29.5" lengthAdjust="spacingAndGlyphs" font-size="10.5">Гвоздь</text>
<text x="353.7" y="685.5" text-anchor="middle" font-size="16">30</text>
<text x="375.5" y="658.9" textLength="29.5" lengthAdjust="spacingAndGlyphs" font-size="9.8">Шуруп</text>
<text x="379.5" y="669.8" textLength="20" lengthAdjust="spacingAndGlyphs" font-size="9.8">4x16</text>
<text x="391.4" y="685.5" text-anchor="middle" font-size="16">20</text>
<text x="408.3" y="658.9" textLength="40.5" lengthAdjust="spacingAndGlyphs" font-size="9.8">Ввинчив.</text>
<text x="413.8" y="669.8" textLength="31.2" lengthAdjust="spacingAndGlyphs" font-size="9.8">дюбель</text>
<text x="424.9" y="685.5" text-anchor="middle" font-size="16">4</text>
<text x="453" y="658.9" textLength="43.3" lengthAdjust="spacingAndGlyphs" font-size="9.8">Эксцентр.</text>
<text x="458.8" y="669.8" textLength="31.2" lengthAdjust="spacingAndGlyphs" font-size="9.8">стяжка</text>
<text x="472" y="685.5" text-anchor="middle" font-size="16">4</text>
<text x="499.6" y="658.7" textLength="58.4" lengthAdjust="spacingAndGlyphs" font-size="9.8">Заглушка для</text>
<text x="501.9" y="670.2" textLength="52.9" lengthAdjust="spacingAndGlyphs" font-size="9.8">эксцентрика</text>
<text x="528.6" y="685.5" text-anchor="middle" font-size="16">4</text>
<text x="561" y="658.6" textLength="41.4" lengthAdjust="spacingAndGlyphs" font-size="8">Полкодерж.</text>
<text x="561" y="667.2" textLength="34.9" lengthAdjust="spacingAndGlyphs" font-size="8">металлич.</text>
<text x="575.7" y="685.5" text-anchor="middle" font-size="16">4</text>
<text x="606.4" y="658.7" textLength="79.8" lengthAdjust="spacingAndGlyphs" font-size="9">Толкатель нажимной</text>
<text x="616.9" y="670.2" textLength="43.1" lengthAdjust="spacingAndGlyphs" font-size="9">с магнитом</text>
<text x="634.9" y="685.5" text-anchor="middle" font-size="16">2</text>
</g>
<text x="184" y="595.2" textLength="263.5" lengthAdjust="spacingAndGlyphs" font-family="Liberation Serif" font-size="19" fill="#111">Комплект фурнитуры для сборки</text>
</svg>
</body></html>
